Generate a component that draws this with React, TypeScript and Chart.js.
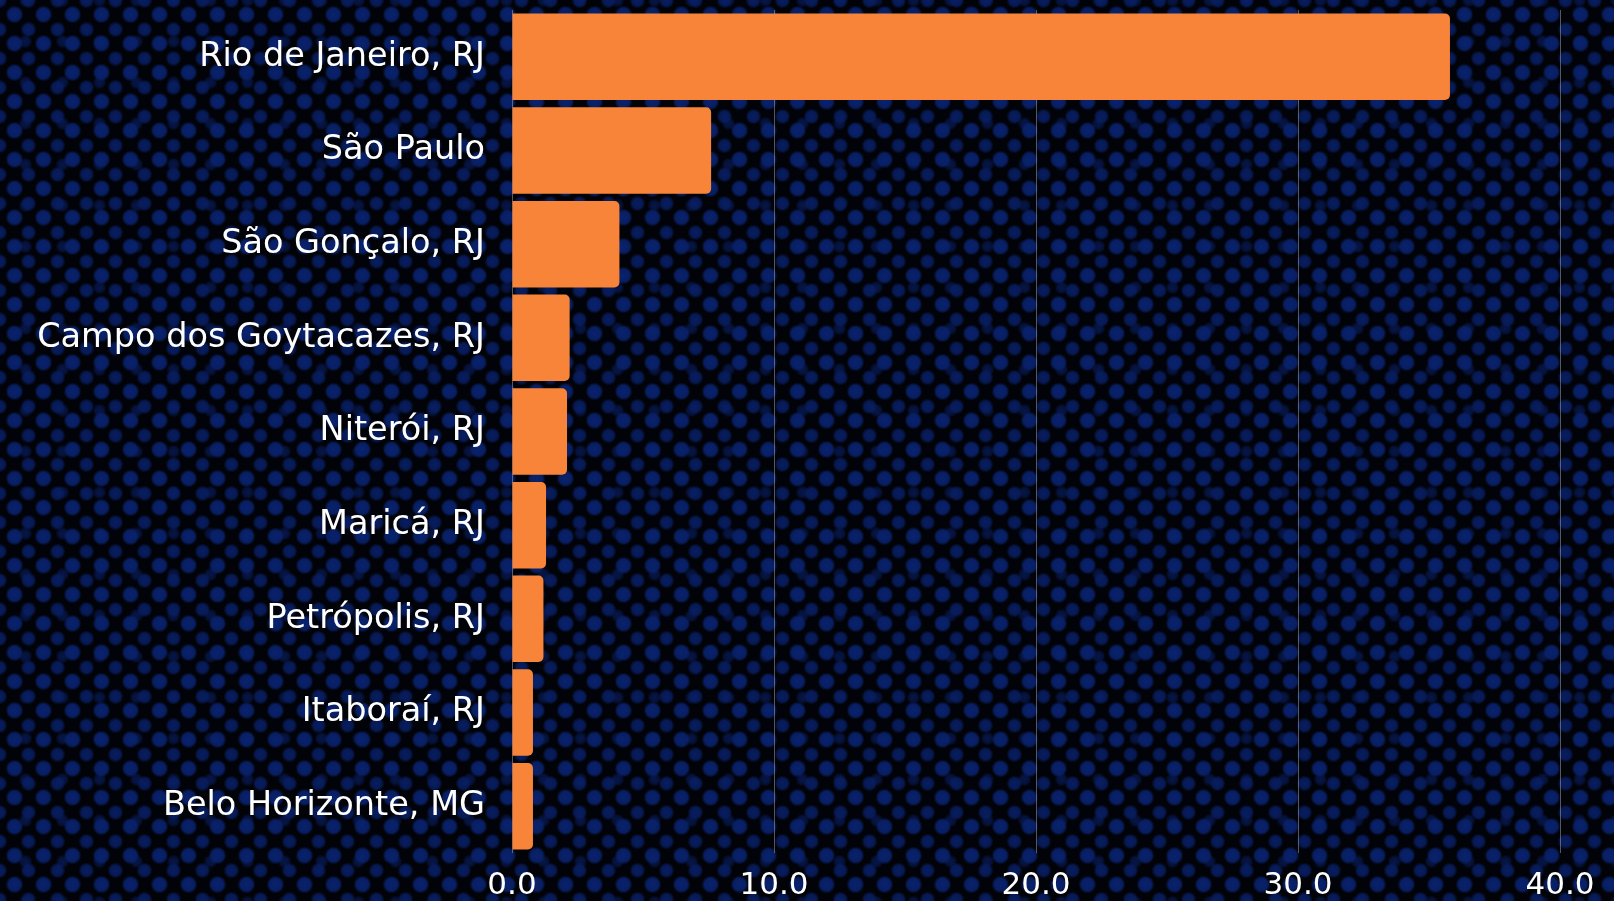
import React, { useEffect, useRef } from "react";
import { Chart, registerables } from "chart.js";

Chart.register(...registerables);

const categories = [
  "Rio de Janeiro, RJ",
  "São Paulo",
  "São Gonçalo, RJ",
  "Campo dos Goytacazes, RJ",
  "Niterói, RJ",
  "Maricá, RJ",
  "Petrópolis, RJ",
  "Itaboraí, RJ",
  "Belo Horizonte, MG",
];

const values = [35.8, 7.6, 4.1, 2.2, 2.1, 1.3, 1.2, 0.8, 0.8];

const xMin = 0;
const xMax = 40;
const xStep = 10;

const FONT = "'DejaVu Sans', sans-serif";

export default function App() {
  const canvasRef = useRef<HTMLCanvasElement | null>(null);

  useEffect(() => {
    const canvas = canvasRef.current;
    if (!canvas) return;
    const chart = new Chart(canvas, {
      type: "bar",
      data: {
        labels: categories,
        datasets: [
          {
            data: values,
            backgroundColor: "#F8843A",
            borderWidth: 0,
            borderRadius: 5,
            barPercentage: 0.923,
            categoryPercentage: 1,
          },
        ],
      },
      options: {
        indexAxis: "y",
        animation: false,
        responsive: false,
        maintainAspectRatio: false,
        layout: { padding: { top: 10, right: 54, bottom: 0, left: 0 } },
        plugins: {
          legend: { display: false },
          tooltip: { enabled: false },
        },
        scales: {
          x: {
            min: xMin,
            max: xMax,
            ticks: {
              stepSize: xStep,
              color: "#ffffff",
              font: { family: FONT, size: 31, lineHeight: 1 },
              padding: 17,
              maxRotation: 0,
              callback: (v: any) => Number(v).toFixed(1),
            },
            grid: {
              color: "rgba(170,170,185,0.5)",
              lineWidth: 1,
              drawTicks: false,
            },
            border: { display: false },
            afterFit: (scale: any) => {
              scale.height = 48;
              scale.paddingLeft = 0;
              scale.paddingRight = 0;
            },
          },
          y: {
            ticks: {
              color: "#ffffff",
              font: { family: FONT, size: 33.5, lineHeight: 1 },
              padding: 27,
            },
            grid: { display: false, drawTicks: false },
            border: { display: false },
            afterFit: (scale: any) => {
              scale.width = 512;
              scale.paddingTop = 0;
              scale.paddingBottom = 0;
            },
          },
        },
      },
    });
    return () => chart.destroy();
  }, []);

  const bg: React.CSSProperties = {
    position: "fixed",
    left: 0,
    top: 0,
    width: 1614,
    height: 901,
    backgroundColor: "#020309",
    backgroundImage: [
      "radial-gradient(circle at center, rgba(10,36,115,0.95) 0, rgba(9,34,108,0.9) 6px, rgba(8,30,100,0) 9px)",
      "radial-gradient(circle at center, rgba(9,33,106,0.9) 0, rgba(8,30,98,0.85) 5px, rgba(8,30,100,0) 8px)",
      "radial-gradient(circle at center, rgba(8,30,98,0.7) 0, rgba(8,28,92,0.6) 4px, rgba(8,30,100,0) 7px)",
    ].join(", "),
    backgroundSize: "29px 29px, 29px 29px, 37px 41px",
    backgroundPosition: "0 0, 14px 15px, 7px 21px",
  };

  return (
    <div style={bg}>
      <canvas ref={canvasRef} width={1614} height={901} style={{ display: "block" }} />
    </div>
  );
}
